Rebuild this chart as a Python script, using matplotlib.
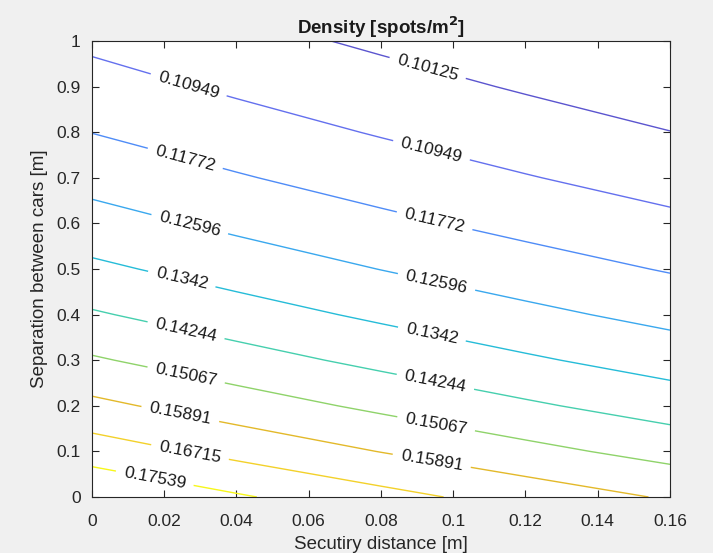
# Density contour plot (parking spots per m^2)

import numpy as np
import matplotlib.pyplot as plt

# ____________________________________________________________________________________

# Data

sec_dist = [0.0, 0.04, 0.08, 0.12, 0.16]          # Secutiry distance [m]
separation = [0.0, 0.1, 0.2, 0.3, 0.4, 0.5,
              0.6, 0.7, 0.8, 0.9, 1.0]            # Separation between cars [m]

# density[i][j] -> separation[i], sec_dist[j]
density = [
    [0.18336, 0.17631, 0.16978, 0.16371, 0.15807],
    [0.17138, 0.16479, 0.15869, 0.15302, 0.14774],
    [0.16087, 0.15468, 0.14895, 0.14363, 0.13868],
    [0.15157, 0.14574, 0.14034, 0.13533, 0.13066],
    [0.14329, 0.13778, 0.13268, 0.12794, 0.12353],
    [0.13587, 0.13064, 0.12581, 0.12131, 0.11713],
    [0.12917, 0.12420, 0.11960, 0.11533, 0.11135],
    [0.12311, 0.11838, 0.11399, 0.10992, 0.10613],
    [0.11759, 0.11307, 0.10888, 0.10499, 0.10137],
    [0.11254, 0.10821, 0.10420, 0.10048, 0.09702],
    [0.10791, 0.10376, 0.09992, 0.09635, 0.09303],
]

levels = [0.10125, 0.10949, 0.11772, 0.12596, 0.1342,
          0.14244, 0.15067, 0.15891, 0.16715, 0.17539]

# ____________________________________________________________________________________

# Gráfico

line_colors = ['#5b55cf', '#6470ee', '#4f8cf7', '#3aa8ee', '#26bcd8',
               '#46cfae', '#8fd36a', '#e3b92a', '#f3d12a', '#f7f71a']

plt.rcParams['font.family'] = ['Liberation Sans', 'DejaVu Sans']

fig = plt.figure(figsize=(7.13, 5.53), dpi=100, facecolor='#f0f0f0')
ax = fig.add_axes([0.129, 0.1013, 0.8107, 0.8246])
ax.set_facecolor('white')

X, Y = np.meshgrid(sec_dist, separation)
cs = ax.contour(X, Y, np.array(density), levels=levels,
                colors=line_colors, linewidths=1.0)

label_pos = [(0.093, 0.943), (0.027, 0.910), (0.094, 0.761), (0.0257, 0.739),
             (0.0947, 0.601), (0.027, 0.596), (0.095, 0.458), (0.0246, 0.469),
             (0.0938, 0.346), (0.026, 0.364), (0.095, 0.250), (0.026, 0.265),
             (0.0952, 0.158), (0.0244, 0.180), (0.094, 0.077), (0.0269, 0.088),
             (0.0174, 0.042)]
ax.clabel(cs, inline=True, fontsize=12.5, fmt='%.5g', colors='#1a1a1a',
          manual=label_pos, inline_spacing=8)

ax.set_xlim(0, 0.16)
ax.set_ylim(0, 1)
ax.set_xticks(np.arange(0, 0.161, 0.02))
ax.set_xticklabels(['0', '0.02', '0.04', '0.06', '0.08', '0.1', '0.12', '0.14', '0.16'])
ax.set_yticks(np.arange(0, 1.01, 0.1))
ax.set_yticklabels(['0', '0.1', '0.2', '0.3', '0.4', '0.5', '0.6', '0.7', '0.8', '0.9', '1'])

ax.tick_params(direction='in', top=True, right=True, length=5, width=0.8,
               colors='#262626', labelsize=12.5)
ax.tick_params(axis='x', pad=12)
ax.tick_params(axis='y', pad=8)
for s in ax.spines.values():
    s.set_color('#262626')
    s.set_linewidth(0.8)

ax.set_title('Density [spots/m$^\\mathbf{2}$]', fontsize=13.5, fontweight='bold',
             color='#1a1a1a', pad=5)
ax.set_xlabel('Secutiry distance [m]', fontsize=13.5, color='#262626', labelpad=5)
ax.set_ylabel('Separation between cars [m]', fontsize=13.5, color='#262626', labelpad=6)

fig.savefig('out.png', dpi=100, facecolor=fig.get_facecolor())
